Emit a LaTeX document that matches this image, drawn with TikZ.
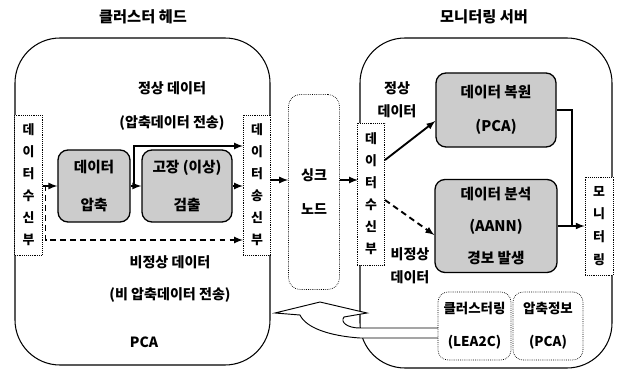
\documentclass[tikz,border=0pt]{standalone}
\usepackage{fontspec}
\setmainfont{Noto Sans CJK KR}
\tikzset{
  recvbox/.style={draw, densely dotted, line width=0.6pt, fill=white, inner sep=0pt, align=center,
    minimum width=0.82cm, minimum height=4.2cm, font=\bfseries\fontsize{11}{18.8}\selectfont},
  graybox/.style={draw, line width=1.1pt, rounded corners=0.3cm, fill=gray!40, align=center,
    inner sep=0pt, font=\bfseries\fontsize{12.5}{29}\selectfont},
  infobox/.style={draw, densely dotted, line width=0.6pt, rounded corners=0.3cm, align=center, inner sep=0pt,
    minimum height=2.04cm, font=\bfseries\fontsize{11.5}{28}\selectfont},
  bigbox/.style={line width=0.9pt, rounded corners=1.35cm},
  arr/.style={->, line width=1.6pt},
  darr/.style={->, line width=1.6pt, dash pattern=on 5pt off 3.5pt},
}
\begin{document}
\begin{tikzpicture}[x=0.03cm, y=-0.03cm, >=latex, font=\bfseries\fontsize{12}{14}\selectfont]
\useasboundingbox (0,0) rectangle (618,372);

% cluster head and monitoring server
\draw[bigbox] (15,38) rectangle (270,365);
\draw[bigbox] (360,38) rectangle (612,368);
\node[font=\bfseries\fontsize{13}{15}\selectfont] (thead) at (143,17) {클러스터 헤드};
\node[font=\bfseries\fontsize{13}{15}\selectfont] (tsrv) at (484,17) {모니터링 서버};

\node[recvbox] (lrecv) at (28.5,185) {데\\이\\터\\수\\신\\부};
\node[recvbox] (lsend) at (257,185) {데\\이\\터\\송\\신\\부};
\node[graybox, minimum width=2.16cm, minimum height=2.16cm, font=\bfseries\fontsize{12.5}{33}\selectfont] (comp) at (94,186) {데이터\\압축};
\node[graybox, minimum width=2.7cm, minimum height=2.16cm, font=\bfseries\fontsize{12.5}{33}\selectfont] (detect) at (187,186) {고장 (이상)\\검출};

\node (nlab) at (172,88) {정상 데이터};
\node (nlab2) at (172,123) {(압축데이터 전송)};
\node (alab) at (170,262) {비정상 데이터};
\node (alab2) at (170,295) {(비 압축데이터 전송)};
\node (pca) at (144,342) {PCA};

\draw[arr] (lrecv.east |- comp.west) -- (comp.west);
\draw[arr] (comp.east) -- (detect.west);
\coordinate (jn) at (134,186);
\draw[arr] (jn) |- ([yshift=1.17cm]lsend.west);
\draw[arr] (detect.east) -- (lsend.west |- detect.east);
\draw[darr] ([xshift=0.09cm]lrecv.east) |- ([yshift=-1.65cm]lsend.west);

% sink node
\node[draw, densely dotted, line width=0.6pt, rounded corners=0.35cm, minimum width=1.53cm, minimum height=5.85cm,
  align=center, font=\bfseries\fontsize{12}{29}\selectfont] (sink) at (314,192) {싱크\\노드};
\coordinate (s1) at ([yshift=0.15cm]lsend.east);
\draw[arr] (s1) -- (sink.west |- s1);
\draw[arr] (sink.east |- s1) -- (s1 -| 358,0);

% monitoring server
\node[recvbox, minimum height=4.26cm] (rrecv) at (371,194) {데\\이\\터\\수\\신\\부};
\node[align=center, font=\bfseries\fontsize{12}{20}\selectfont] (rn) at (397,100) {정상\\데이터};
\node[align=center, font=\bfseries\fontsize{12}{20}\selectfont] (ra) at (410,266) {비정상\\데이터};
\node[graybox, minimum width=3.6cm, minimum height=2.22cm] (restore) at (496,110) {데이터 복원\\(PCA)};
\node[graybox, minimum width=3.66cm, minimum height=2.79cm, font=\bfseries\fontsize{12.5}{27}\selectfont] (anal) at (496,226) {데이터 분석\\(AANN)\\경보 발생};
\node[recvbox, minimum width=0.84cm, minimum height=2.94cm, font=\bfseries\fontsize{11}{19.5}\selectfont] (mon) at (599,226) {모\\니\\터\\링};

\draw[arr] ([yshift=1.02cm]rrecv.east) -- ([yshift=-0.33cm]restore.west);
\draw[darr] ([yshift=-0.18cm]rrecv.east) -- ([yshift=-0.27cm]anal.west);
\coordinate (jm) at (572,226);
\draw[line width=1.6pt] (restore.east) -| (jm);
\draw[arr] (anal.east) -- (mon.west);

% feedback to the cluster head
\draw[line width=0.8pt, fill=white] (438,328) -- (360,328) .. controls (347,328) and (340,322) .. (344,317)
  -- (367,313) -- (320,302) -- (275,313) -- (300,315) .. controls (306,328) and (330,336) .. (360,338)
  -- (438,338);
\node[infobox, minimum width=2.19cm] (clus) at (474.5,326) {클러스터링\\(LEA2C)};
\node[infobox, minimum width=2.1cm] (cinfo) at (548,326) {압축정보\\(PCA)};
\end{tikzpicture}
\end{document}
